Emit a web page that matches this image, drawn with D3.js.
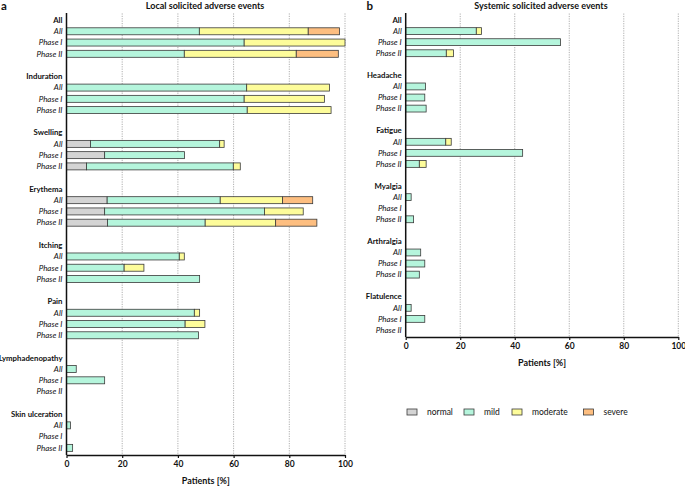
<!DOCTYPE html>
<html>
<head>
<meta charset="utf-8">
<script src="https://cdn.jsdelivr.net/npm/d3@7"></script>
<style>
  body { margin: 0; background: #fff; }
  svg { font-family: Lato, "Open Sans", sans-serif; }
</style>
</head>
<body>
<div id="chart"></div>
<script>
// Data: percent of patients per grade, rows = event x (All, Phase I, Phase II)
const groups = ["All", "Phase I", "Phase II"];
const grades = ["normal", "mild", "moderate", "severe"];
const gradeColors = ["#d4d4d4", "#b5f5dc", "#fdfc9a", "#fdbe80"];

const localEvents = ["All", "Induration", "Swelling", "Erythema", "Itching", "Pain", "Lymphadenopathy", "Skin ulceration"];
const localNormal   = [0, 0, 0,   0, 0, 0,   8.6, 13.7, 7.2,   14.6, 13.7, 14.7,   0, 0, 0,   0, 0, 0,   0, 0, 0,   0, 0, 0];
const localMild     = [47.7, 63.8, 42.3,   64.7, 63.8, 64.9,   46.4, 28.7, 52.7,   40.6, 57.4, 35.1,   40.5, 20.7, 47.8,   45.9, 42.6, 47.4,   3.5, 13.7, 0,   1.4, 0, 2.2];
const localModerate = [39.1, 36.2, 40.2,   29.7, 28.8, 30.1,   1.6, 0, 2.5,   22.4, 13.9, 25.3,   1.8, 7.1, 0,   1.9, 7.1, 0,   0, 0, 0,   0, 0, 0];
const localSevere   = [11.2, 0, 15.1,   0, 0, 0,   0, 0, 0,   10.8, 0, 14.8,   0, 0, 0,   0, 0, 0,   0, 0, 0,   0, 0, 0];

const systemicEvents = ["All", "Headache", "Fatigue", "Myalgia", "Arthralgia", "Flatulence"];
const systemicNormal   = [0, 0, 0,   0, 0, 0,   0, 0, 0,   0, 0, 0,   0, 0, 0,   0, 0, 0];
const systemicMild     = [25.9, 56.8, 14.9,   7.3, 7.0, 7.5,   14.7, 42.9, 5.0,   2.0, 0, 2.9,   5.5, 7.0, 5.0,   2.0, 7.0, 0];
const systemicModerate = [1.9, 0, 2.6,   0, 0, 0,   2.0, 0, 2.5,   0, 0, 0,   0, 0, 0,   0, 0, 0];
const systemicSevere   = [0, 0, 0,   0, 0, 0,   0, 0, 0,   0, 0, 0,   0, 0, 0,   0, 0, 0];

const xTicks = [0, 20, 40, 60, 80, 100];

const width = 685;
const height = 486;

const svg = d3.select("#chart")
  .append("svg")
  .attr("width", width)
  .attr("height", height);

// Draws one panel of stacked horizontal bars
function drawPanel(opts) {
  const events = opts.events;
  const nSlots = events.length * 5 - 1;

  // build rows for d3.stack
  const rows = [];
  events.forEach((ev, i) => {
    groups.forEach((g, j) => {
      const k = i * 3 + j;
      rows.push({
        slot: i * 5 + j + 1,
        normal: opts.normal[k],
        mild: opts.mild[k],
        moderate: opts.moderate[k],
        severe: opts.severe[k]
      });
    });
  });

  const xScale = d3.scaleLinear()
    .domain([0, 100])
    .range([opts.left, opts.right]);

  const yScale = d3.scaleBand()
    .domain(d3.range(nSlots))
    .range([opts.top, opts.bottom])
    .paddingInner(0.38)
    .paddingOuter(0.19);

  const axisY = opts.bottom + 1.5;
  const g = svg.append("g");

  // dotted grid lines
  g.selectAll("line.grid")
    .data(xTicks.slice(1))
    .enter()
    .append("line")
    .attr("class", "grid")
    .attr("x1", d => xScale(d))
    .attr("x2", d => xScale(d))
    .attr("y1", opts.top - 1)
    .attr("y2", axisY)
    .attr("stroke", "#9a9a9a")
    .attr("stroke-width", 0.8)
    .attr("stroke-dasharray", "1.2,1.2");

  // stacked bars
  const stack = d3.stack().keys(grades);
  const series = stack(rows);

  g.selectAll("g.series")
    .data(series)
    .enter()
    .append("g")
    .attr("class", "series")
    .attr("fill", (d, i) => gradeColors[i])
    .selectAll("rect")
    .data(d => d.filter(s => s[1] - s[0] > 0))
    .enter()
    .append("rect")
    .attr("x", d => xScale(d[0]))
    .attr("width", d => xScale(d[1]) - xScale(d[0]))
    .attr("y", d => yScale(d.data.slot))
    .attr("height", yScale.bandwidth())
    .attr("stroke", "#3a3a3a")
    .attr("stroke-width", 0.8);

  // y labels
  const labels = [];
  events.forEach((ev, i) => {
    labels.push({ text: ev, slot: i * 5, header: true });
    groups.forEach((gr, j) => labels.push({ text: gr, slot: i * 5 + j + 1, header: false }));
  });

  g.selectAll("text.ylab")
    .data(labels)
    .enter()
    .append("text")
    .attr("class", "ylab")
    .attr("x", opts.left - 4)
    .attr("y", d => yScale(d.slot) + yScale.bandwidth() / 2)
    .attr("dy", "0.35em")
    .attr("text-anchor", "end")
    .attr("font-size", d => d.header ? "7.8px" : "8px")
    .attr("font-weight", d => d.header ? "bold" : "normal")
    .attr("font-style", d => d.header ? "normal" : "italic")
    .attr("fill", "#111")
    .text(d => d.text);

  // x axis
  const xAxis = g.append("g")
    .attr("transform", `translate(0,${axisY})`)
    .call(d3.axisBottom(xScale).tickValues(xTicks).tickSize(3).tickPadding(3).tickSizeOuter(0));
  xAxis.select(".domain").attr("stroke", "#111").attr("stroke-width", 1.5);
  xAxis.selectAll(".tick line").attr("stroke", "#111").attr("stroke-width", 1.2);
  xAxis.selectAll(".tick text")
    .attr("font-family", "Lato, 'Open Sans', sans-serif")
    .attr("font-size", "8.5px")
    .attr("font-weight", "bold")
    .attr("fill", "#111");

  // y axis line
  g.append("line")
    .attr("x1", opts.left)
    .attr("x2", opts.left)
    .attr("y1", opts.top - 1.5)
    .attr("y2", axisY)
    .attr("stroke", "#111")
    .attr("stroke-width", 1.5);

  // axis label
  g.append("text")
    .attr("x", (opts.left + opts.right) / 2)
    .attr("y", axisY + 28.5)
    .attr("text-anchor", "middle")
    .attr("font-size", "9px")
    .attr("font-weight", "bold")
    .attr("fill", "#111")
    .text("Patients [%]");

  // title
  g.append("text")
    .attr("x", opts.titleX)
    .attr("y", 8.5)
    .attr("text-anchor", "middle")
    .attr("font-size", "9px")
    .attr("font-weight", "bold")
    .attr("fill", "#111")
    .text(opts.title);

  // panel letter
  g.append("text")
    .attr("x", opts.letterX)
    .attr("y", 10)
    .attr("font-size", "11.5px")
    .attr("font-weight", "bold")
    .attr("fill", "#111")
    .text(opts.letter);
}

drawPanel({
  events: localEvents,
  normal: localNormal, mild: localMild, moderate: localModerate, severe: localSevere,
  left: 66.5, right: 345, top: 14.4, bottom: 453.5,
  title: "Local solicited adverse events", titleX: 205, letter: "a", letterX: 1
});

drawPanel({
  events: systemicEvents,
  normal: systemicNormal, mild: systemicMild, moderate: systemicModerate, severe: systemicSevere,
  left: 405.7, right: 678.3, top: 14.5, bottom: 335.5,
  title: "Systemic solicited adverse events", titleX: 541, letter: "b", letterX: 366.5
});

// legend
const legendX = [407, 464, 512, 583.5];
const legend = svg.append("g")
  .selectAll("g")
  .data(grades)
  .enter()
  .append("g")
  .attr("transform", (d, i) => `translate(${legendX[i]},409)`);

legend.append("rect")
  .attr("width", 10)
  .attr("height", 6)
  .attr("fill", (d, i) => gradeColors[i])
  .attr("stroke", "#3a3a3a")
  .attr("stroke-width", 0.8);

legend.append("text")
  .attr("x", 20)
  .attr("y", 3)
  .attr("dy", "0.35em")
  .attr("font-size", "8.5px")
  .attr("fill", "#111")
  .text(d => d);
</script>
</body>
</html>
